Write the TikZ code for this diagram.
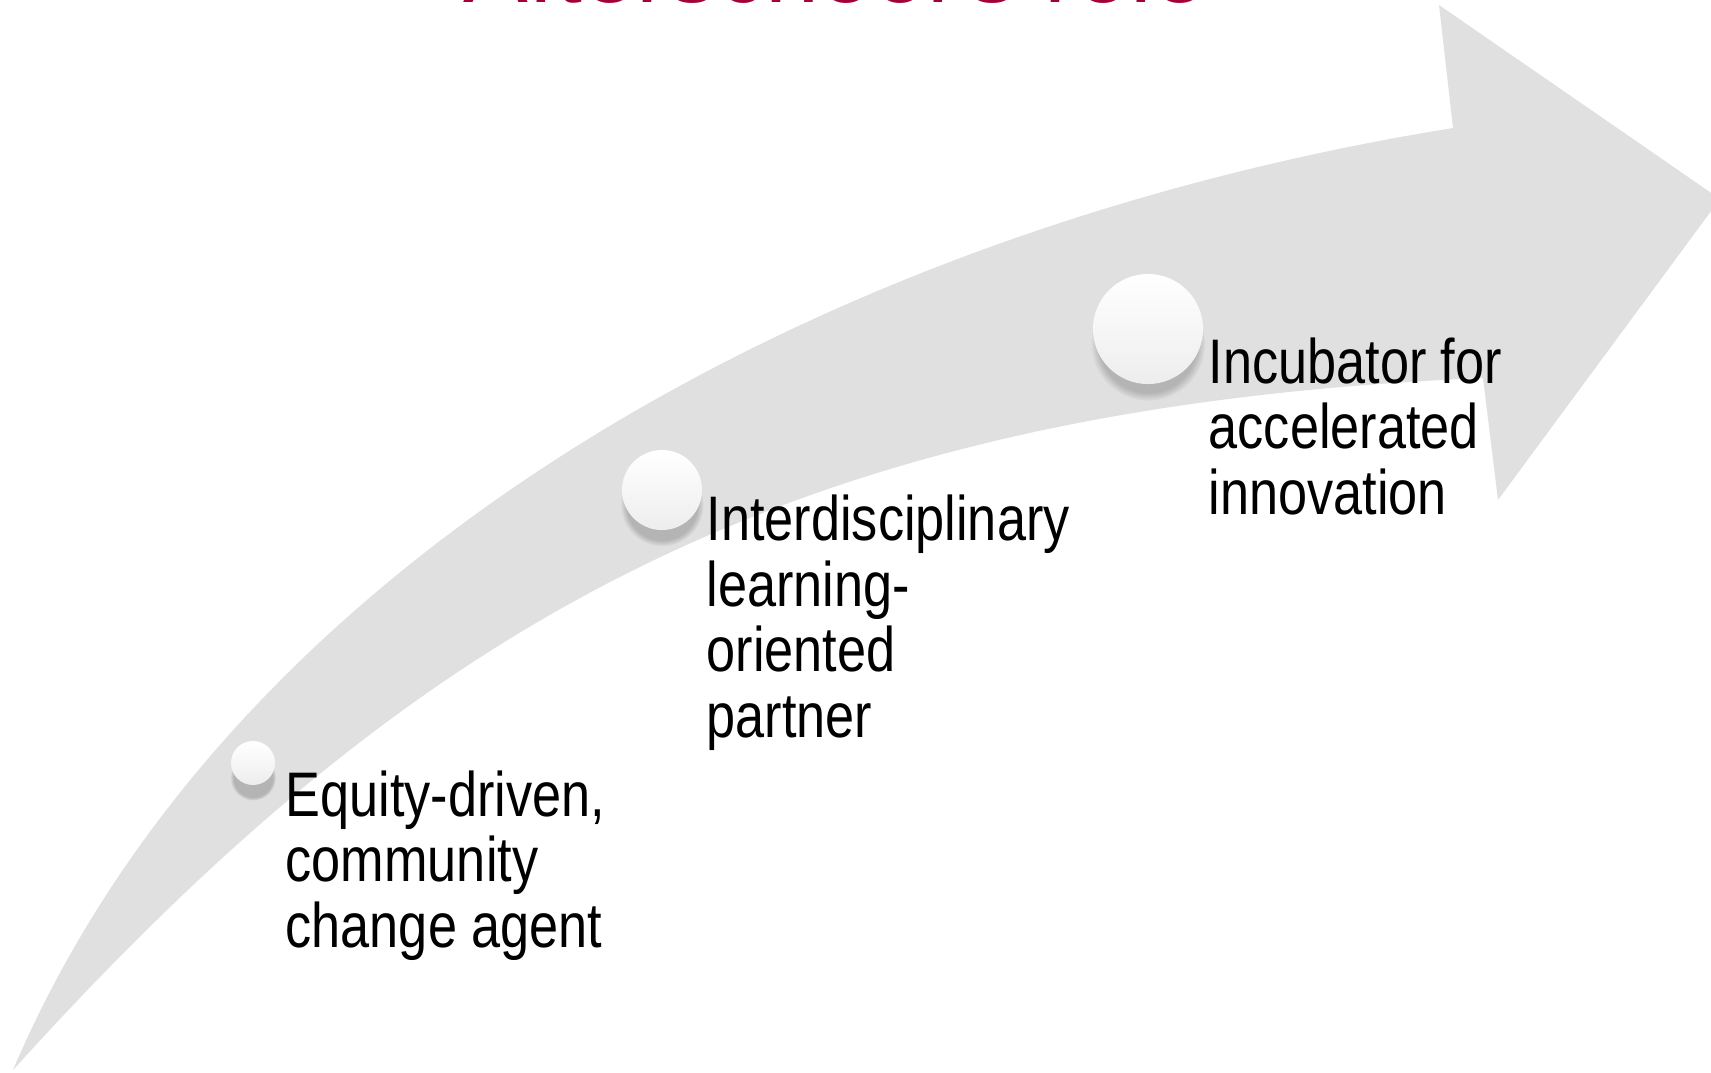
\documentclass[tikz,border=0pt]{standalone}
\usepackage{fontspec}
\setmainfont{Liberation Sans}
\newfontfamily\narrowfont{Liberation Sans}[FakeStretch=0.83]
\usetikzlibrary{shadows}
\definecolor{arrowgray}{RGB}{224,224,224}
\definecolor{titlered}{RGB}{163,0,58}
\tikzset{
  stage dot/.style={circle, inner sep=0pt, minimum size=#1,
    top color=white, middle color=white, bottom color=gray!14,
    circular drop shadow={shadow xshift=0pt, shadow yshift=-4pt,
      shadow scale=1.04, opacity=.45}},
  stage label/.style={anchor=base west, align=left, inner sep=0pt,
    font=\narrowfont\fontsize{17.9}{18.6}\selectfont},
}

\begin{document}
\begin{tikzpicture}[x=0.01cm,y=-0.01cm]
\useasboundingbox (0,0) rectangle (1711,1072);
\fill[arrowgray] (13,1070)
.. controls (230,560) and (820,230) .. (1453,128)
-- (1439,5) -- (1720,199) -- (1498,500) -- (1483,378)
.. controls (783,408) and (415,626) .. cycle;
\node[anchor=base, text=titlered, font=\fontsize{27.6}{30}\selectfont]
  (title) at (835,2.5) {Afterschool's role};
\node[stage dot=0.44cm] (dot1) at (253,763) {};
\node[stage dot=0.80cm] (dot2) at (662,490) {};
\node[stage dot=1.10cm] (dot3) at (1148,329) {};
% base anchor sits on the last line
\node[stage label] (equity) at (285,947) {Equity-driven,\\community\\change agent};
\node[stage label] (partner) at (706,737) {Interdisciplinary\\learning-\\oriented\\partner};
\node[stage label] (incubator) at (1208,514) {Incubator for\\accelerated\\innovation};
\end{tikzpicture}
\end{document}
